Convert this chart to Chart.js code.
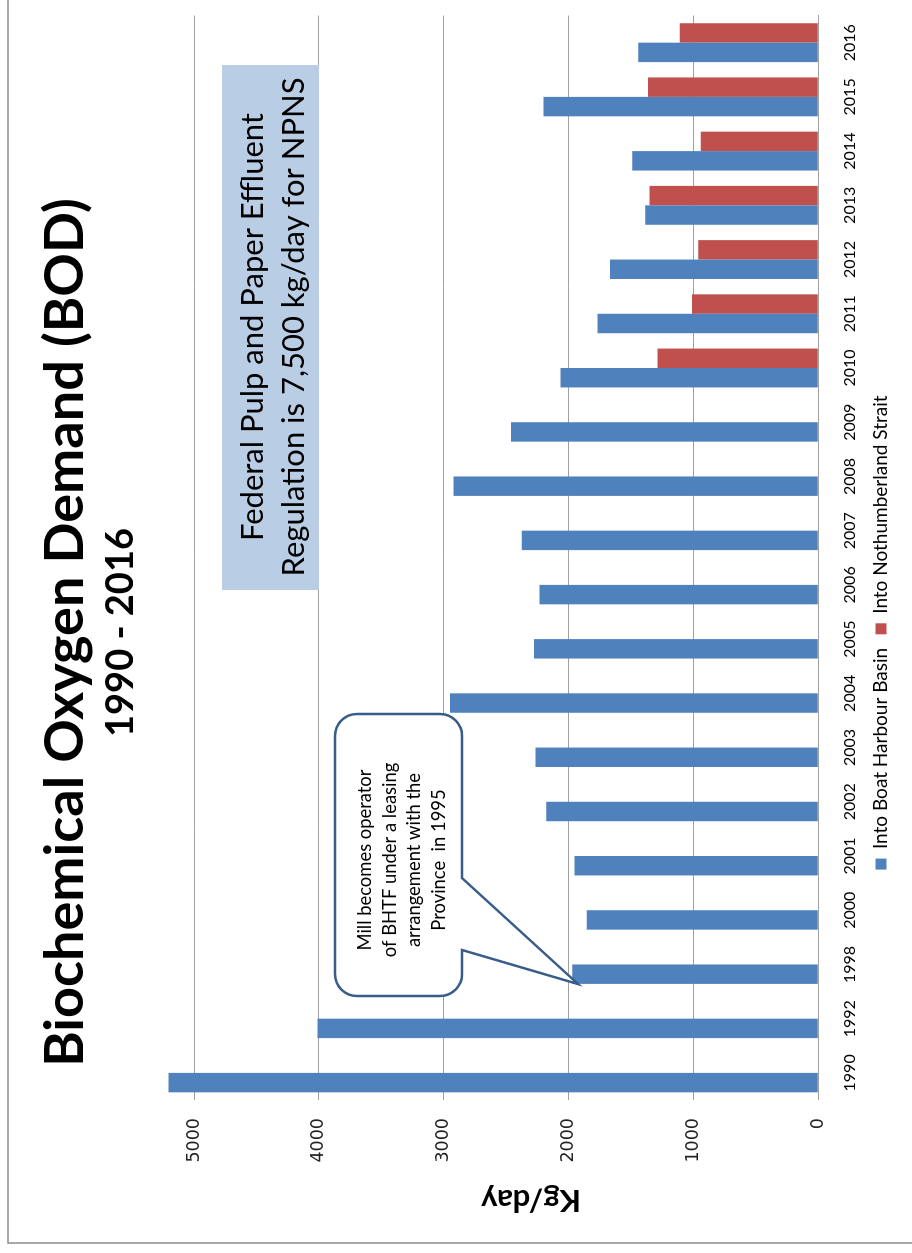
<!DOCTYPE html>
<html>
<head>
<meta charset="utf-8">
<title>Biochemical Oxygen Demand (BOD)</title>
<script src="https://cdn.jsdelivr.net/npm/chart.js@4.4.1/dist/chart.umd.min.js"></script>
<style>
    html, body { margin: 0; padding: 0; background: #fff; overflow: hidden; }
    /* the chart is laid out landscape and turned a quarter to the left */
    #marco {
        position: absolute; left: 0; top: 0;
        width: 1253px; height: 912px;
        transform-origin: 0 0;
        transform: translate(0, 1253px) rotate(-90deg);
    }
</style>
</head>
<body>
<div id="marco"><canvas id="graficaBOD" width="1253" height="912"></canvas></div>
<script>
const years = ['1990', '1992', '1998', '2000', '2001', '2002', '2003', '2004', '2005', '2006',
    '2007', '2008', '2009', '2010', '2011', '2012', '2013', '2014', '2015', '2016'];
const boatHarbour = [5206, 4012, 1970, 1855, 1952, 2178, 2264, 2950, 2276, 2233,
    2375, 2921, 2461, 2065, 1768, 1669, 1385, 1490, 2201, 1441];
const northumberland = [null, null, null, null, null, null, null, null, null, null,
    null, null, null, 1287, 1011, 960, 1351, 941, 1364, 1110];
const valueTicks = [0, 1000, 2000, 3000, 4000, 5000];

const regulationText = ['Federal Pulp and Paper Effluent', 'Regulation is 7,500 kg/day for NPNS'];
const calloutText = ['Mill becomes operator', 'of BHTF under a leasing', 'arrangement with the', 'Province  in 1995'];

// text boxes, axis title and frame drawn on top of the bars
const notasPlugin = {
    id: 'notas',
    afterDatasetsDraw(chart) {
        const ctx = chart.ctx;
        ctx.save();

        // regulation note
        ctx.fillStyle = '#b9cde5';
        ctx.fillRect(663, 222, 525, 97);
        ctx.fillStyle = '#000';
        ctx.font = '31px Lato';
        ctx.textAlign = 'center';
        ctx.textBaseline = 'middle';
        ctx.fillText(regulationText[0], 926, 253);
        ctx.fillText(regulationText[1], 926, 294);

        // callout with its pointer
        const l = 257, t = 335, r = 539, b = 462, rad = 22;
        ctx.beginPath();
        ctx.moveTo(l + rad, t);
        ctx.lineTo(r - rad, t);
        ctx.arcTo(r, t, r, t + rad, rad);
        ctx.lineTo(r, b - rad);
        ctx.arcTo(r, b, r - rad, b, rad);
        ctx.lineTo(375, b);
        ctx.lineTo(269, 578);
        ctx.lineTo(303, b);
        ctx.lineTo(l + rad, b);
        ctx.arcTo(l, b, l, b - rad, rad);
        ctx.lineTo(l, t + rad);
        ctx.arcTo(l, t, l + rad, t, rad);
        ctx.closePath();
        ctx.fillStyle = '#fff';
        ctx.fill();
        ctx.lineWidth = 2.5;
        ctx.strokeStyle = '#385d8a';
        ctx.stroke();

        ctx.fillStyle = '#000';
        ctx.font = '18.4px Lato';
        calloutText.forEach((linea, i) => ctx.fillText(linea, 393, 365 + i * 24.7));

        // value axis title
        ctx.save();
        ctx.translate(53, 531);
        ctx.rotate(-Math.PI / 2);
        ctx.font = 'bold 31px Lato';
        ctx.fillText('Kg/day', 0, 0);
        ctx.restore();

        // outer frame
        ctx.lineWidth = 1.5;
        ctx.strokeStyle = '#8c8c8c';
        ctx.strokeRect(10, 8, 1400, 1000);
        ctx.restore();
    }
};

new Chart(document.getElementById('graficaBOD'), {
    type: 'bar',
    data: {
        labels: years,
        datasets: [
            { label: 'Into Boat Harbour Basin', data: boatHarbour, backgroundColor: '#4f81bd', borderWidth: 0 },
            { label: 'Into Nothumberland Strait', data: northumberland, backgroundColor: '#c0504d', borderWidth: 0 }
        ]
    },
    options: {
        responsive: false,
        devicePixelRatio: 1,
        animation: false,
        categoryPercentage: 0.717,
        barPercentage: 1,
        layout: { padding: { left: 0, right: 12, top: 0, bottom: 11.5 } },
        plugins: {
            title: {
                display: true,
                text: 'Biochemical Oxygen Demand (BOD)',
                color: '#000',
                font: { family: 'Lato', weight: 'bold', size: 54, lineHeight: 1.2 },
                padding: { top: 33, bottom: 0 }
            },
            subtitle: {
                display: true,
                text: '1990 - 2016',
                color: '#000',
                font: { family: 'Lato', weight: 'bold', size: 38, lineHeight: 1.2 },
                padding: { top: 0, bottom: 19.5 }
            },
            legend: {
                position: 'bottom',
                labels: {
                    boxWidth: 11, boxHeight: 11, padding: 13.5, color: '#000',
                    font: { family: 'Lato', size: 19 }
                }
            },
            tooltip: { enabled: false }
        },
        scales: {
            x: {
                grid: { display: false, drawTicks: false },
                border: { display: true, color: '#a0a0a0', width: 1 },
                ticks: {
                    color: '#000', padding: 23.8, maxRotation: 0, autoSkip: false,
                    font: { family: 'Lato', size: 16, lineHeight: 1 }
                },
                afterFit: scale => { scale.height = 39.8; }
            },
            y: {
                min: 0,
                max: 5250,
                grid: { color: '#a0a0a0', drawTicks: false },
                border: { display: false },
                ticks: {
                    padding: 18, color: '#222',
                    font: { family: 'DejaVu Sans', size: 17.5 },
                    callback: v => String(v)
                },
                afterBuildTicks: scale => { scale.ticks = valueTicks.map(v => ({ value: v })); },
                afterFit: scale => { scale.width = 153; }
            }
        }
    },
    plugins: [notasPlugin]
});
</script>
</body>
</html>
